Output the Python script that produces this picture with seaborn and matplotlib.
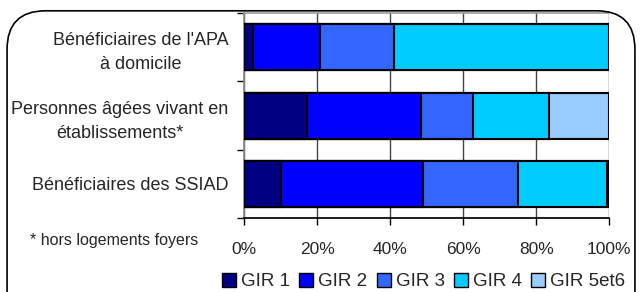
import numpy as np
import pandas as pd
import matplotlib.pyplot as plt
import seaborn as sns
from matplotlib.patches import FancyBboxPatch
from matplotlib.lines import Line2D

# data (in %)
categories = ["Bénéficiaires de l'APA\nà domicile",
              "Personnes âgées vivant en\nétablissements*",
              "Bénéficiaires des SSIAD"]
groups = ['GIR 1', 'GIR 2', 'GIR 3', 'GIR 4', 'GIR 5et6']
gir1 = [2.6, 17.2, 10.1]
gir2 = [18.2, 31.2, 38.8]
gir3 = [20.2, 14.3, 26.2]
gir4 = [59.0, 20.8, 24.3]
gir5 = [0.0, 16.5, 0.6]
colors = ['#000080', '#0000ff', '#3366ff', '#00ccff', '#99ccff']
xticks = [0, 20, 40, 60, 80, 100]

sns.set_theme(style='white')
plt.rcParams['font.family'] = ['Liberation Sans', 'DejaVu Sans']

df = pd.DataFrame({'cat': categories, 'GIR 1': gir1, 'GIR 2': gir2,
                   'GIR 3': gir3, 'GIR 4': gir4, 'GIR 5et6': gir5})
cum = df[groups].cumsum(axis=1)

fig = plt.figure(figsize=(6.42, 2.92), dpi=100)
ax = fig.add_axes([0.380, 0.253, 0.569, 0.702])

# stacked bars: draw cumulative totals from last to first
for g, c in reversed(list(zip(groups, colors))):
    sns.barplot(x=cum[g], y=df['cat'], color=c, orient='h', width=0.67,
                edgecolor='black', linewidth=1.5, saturation=1, ax=ax, zorder=3)

ax.set_xlim(0, 100)
ax.set_ylim(2.5, -0.5)
ax.set_xticks(xticks)
ax.set_xticklabels([f'{t}%' for t in xticks], fontsize=12.5)
ax.xaxis.grid(True, color='#444444', linewidth=1, zorder=0)
ax.set_axisbelow(True)
ax.set_xlabel('')
ax.set_ylabel('')
ax.tick_params(axis='x', bottom=True, length=5, width=1, color='black', pad=12)
ax.set_yticks([-0.5, 0.5, 1.5, 2.5], minor=True)
ax.tick_params(axis='y', which='minor', left=True, length=5, width=1, color='black')
ax.tick_params(axis='y', which='major', left=False, pad=5)
ax.set_yticks([0, 1, 2])
ax.set_yticklabels(categories, fontsize=13, ha='right', multialignment='center',
                   linespacing=1.55)
for s in ['top', 'right']:
    ax.spines[s].set_color('#999999')
    ax.spines[s].set_linewidth(1.2)
ax.spines['right'].set_visible(False)
ax.spines['left'].set_color('#888888')
ax.spines['bottom'].set_color('black')

fig.text(0.047, 0.178, '* hors logements foyers', fontsize=11.5, va='center')

handles = [Line2D([0], [0], marker='s', linestyle='', markersize=9.5,
                  markerfacecolor=c, markeredgecolor='black') for c in colors]
fig.legend(handles, groups, loc='center right', bbox_to_anchor=(1.0, 0.035),
           ncol=5, frameon=False, fontsize=13.5, handlelength=0.7,
           handletextpad=0.3, columnspacing=0.5)

frame = FancyBboxPatch((0.011, -0.2), 0.978, 1.163, transform=fig.transFigure,
                       boxstyle='round,pad=0,rounding_size=0.06',
                       facecolor='none', edgecolor='black', linewidth=1.2,
                       mutation_aspect=2.2)
fig.patches.append(frame)

fig.savefig('out.png', dpi=100)
